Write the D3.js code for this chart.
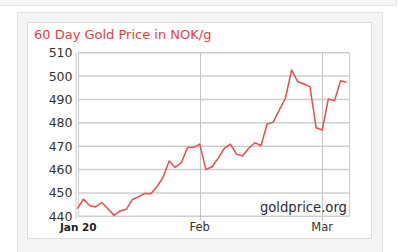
<!DOCTYPE html>
<html><head><meta charset="utf-8">
<script src="https://cdn.jsdelivr.net/npm/d3@7"></script>
<style>html,body{margin:0;padding:0;background:#fff;overflow:hidden}svg{display:block}</style>
</head><body>
<svg id="c" width="399" height="252"></svg>
<script>
const title = "60 Day Gold Price in NOK/g";
const prices = [443.3,447.3,444.6,444.0,445.9,443.2,440.4,442.3,443.0,447.2,448.3,449.8,449.7,452.6,456.6,463.7,460.9,463.0,469.4,469.5,
470.9,460.0,461.2,464.8,469.1,470.9,466.6,465.8,469.1,471.5,470.2,479.5,480.3,485.5,490.5,502.6,497.6,496.6,495.5,477.9,
476.9,490.2,489.4,498.0,497.3];
const yTicks = [440,450,460,470,480,490,500,510];
const xTickIdx = [0,20,40];
const xTickLabels = ["Jan 20","Feb","Mar"];
const watermark = "goldprice.org";

const svg = d3.select("#c");
const font = "DejaVu Sans, Verdana, sans-serif";
// page decorations
svg.append("rect").attr("x",-1).attr("y",-1).attr("width",397).attr("height",6.5).attr("fill","#f6f6f6").attr("stroke","#e4e4e4");
svg.append("rect").attr("x",17.5).attr("y",12.5).attr("width",365).attr("height",260).attr("fill","#f4f4f4").attr("stroke","#e2e2e2");
svg.append("rect").attr("x",27.5).attr("y",22.5).attr("width",344).attr("height",216).attr("fill","#fff").attr("stroke","#dcdcdc");

const L=78, R=349, T=52.7, B=216.3;
const x = d3.scaleLinear().domain([0, 44]).range([77.3, 346.7]);
const y = d3.scaleLinear().domain([440,510]).range([B, T]);

svg.append("text").attr("x",34).attr("y",39).attr("fill","#ee3b3b").attr("font-family",font).attr("font-size",13).text(title);

// horizontal grid
svg.append("g").selectAll("line").data(yTicks).join("line")
  .attr("x1",L).attr("x2",R).attr("y1",d=>y(d)).attr("y2",d=>y(d))
  .attr("stroke","#cfcfcf").attr("stroke-width",1.6);
// vertical grid
svg.append("g").selectAll("line").data(xTickIdx.slice(1)).join("line")
  .attr("x1",d=>Math.round(x(d))+0.5).attr("x2",d=>Math.round(x(d))+0.5).attr("y1",T).attr("y2",B+4)
  .attr("stroke","#c4c4c4").attr("stroke-width",1);
// borders
svg.append("line").attr("x1",R+0.5).attr("x2",R+0.5).attr("y1",T).attr("y2",B).attr("stroke","#cfcfcf").attr("stroke-width",1.2);
svg.append("line").attr("x1",L+0.5).attr("x2",L+0.5).attr("y1",T).attr("y2",B).attr("stroke","#cfcfcf").attr("stroke-width",1.2);
svg.append("line").attr("x1",76).attr("x2",76).attr("y1",T).attr("y2",B+3).attr("stroke","#c8c8c8").attr("stroke-width",1);

// y labels
svg.append("g").selectAll("text").data(yTicks).join("text")
  .attr("x",72.5).attr("y",d=>y(d)+4.5).attr("text-anchor","end")
  .attr("font-family",font).attr("font-size",12.5).attr("fill","#333").text(d=>d);
// x labels
svg.append("g").selectAll("text").data(xTickIdx).join("text")
  .attr("x",(d,i)=>x(d)+(i===0?1:0)).attr("y",231).attr("text-anchor","middle")
  .attr("font-family",font).attr("font-size",(d,i)=>i===0?10.5:11.5).attr("fill",(d,i)=>i===0?"#222":"#333")
  .attr("font-weight",(d,i)=>i===0?"bold":"normal").text((d,i)=>xTickLabels[i]);

// watermark
svg.append("text").attr("x",347).attr("y",212).attr("text-anchor","end")
  .attr("font-family",font).attr("font-size",13.2).attr("fill","#2a2a3a").text(watermark);

// line
svg.append("path").datum(prices)
  .attr("d", d3.line().x((d,i)=>x(i)).y(d=>y(d)))
  .attr("fill","none").attr("stroke","#ef4a4a").attr("stroke-width",1.5).attr("stroke-linejoin","round");
</script>
</body></html>
